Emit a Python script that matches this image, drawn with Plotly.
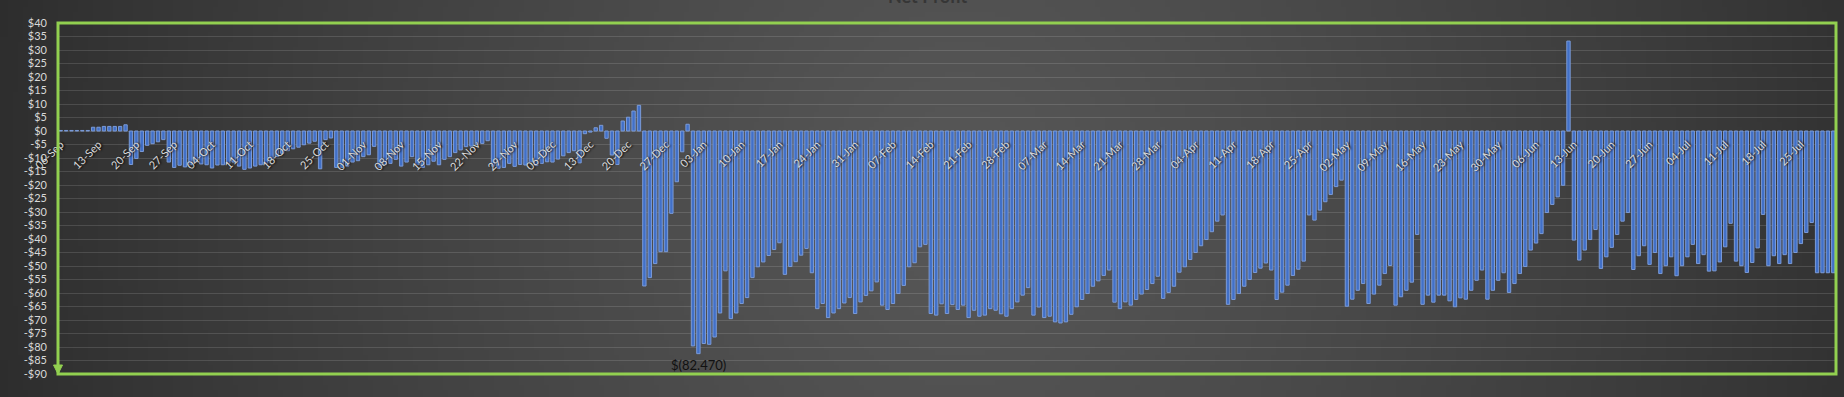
import zlib, struct, base64
import numpy as np
import pandas as pd
import plotly.graph_objects as go

# ---------------- data (daily net profit, $) ----------------
START_DATE = "2021-09-06"

sep_vals = [0.2, 0.2, 0.2, 0.2, 0.2, 0.2, 1.4, 1.4, 1.7, 1.7, 1.7, 1.7, 2.3,
            -12.4, -10.2, -7.6, -5.3, -4.7, -4.0, -3.2, -11.5, -13.5, -12.7, -13.3, -12.5]
oct_vals = [-11.5, -12.2, -12.5, -13.7, -12.6, -12.5, -12.0, -11.5, -13.0, -14.2, -13.7,
            -13.0, -12.5, -12.0, -10.5, -9.5, -8.3, -7.3, -6.6, -6.0, -5.1, -4.5, -3.8,
            -14.0, -3.2, -2.6, -13.5, -13.5, -13.0, -11.5, -11.0]
nov_vals = [-9.5, -8.8, -5.7, -13.5, -12.5, -12.0, -10.5, -13.0, -11.5, -9.5, -12.5,
            -13.5, -12.5, -11.2, -12.5, -10.5, -9.5, -8.0, -7.0, -5.8, -5.6, -5.0, -4.6,
            -3.6, -13.0, -13.8, -13.5, -12.0, -13.1, -12.4]
dec_vals = [-12.6, -11.5, -12.8, -12.0, -11.4, -11.5, -10.4, -9.2, -8.0, -7.3, -11.8,
            -1.0, -0.4, 1.2, 2.1, -2.7, -8.9, -12.4, 3.7, 5.1, 7.4, 9.5, -57.4, -54.3,
            -49.1, -44.7, -44.7, -30.5, -18.8, -7.7, 2.5]
jan_vals = [-79.6, -82.47, -78.7, -79.0, -76.3, -67.4, -51.8, -69.5, -67.4, -63.9, -61.7,
            -54.3, -50.3, -48.5, -46.1, -43.9, -41.4, -53.1, -50.2, -48.4, -46.0, -43.5,
            -52.5, -65.8, -63.9, -69.1, -67.4, -65.8, -63.7, -61.7, -67.6]
feb_vals = [-63.3, -60.9, -59.2, -55.9, -64.5, -66.1, -63.9, -60.2, -57.2, -50.3, -48.8,
            -42.9, -42.0, -67.6, -68.2, -64.0, -67.6, -64.3, -66.1, -64.5, -69.1, -66.4,
            -68.6, -68.2, -65.8, -66.4, -67.7, -68.6]
mar_vals = [-65.8, -63.3, -60.8, -58.0, -68.2, -65.2, -69.1, -68.6, -70.7, -71.1, -70.7,
            -67.9, -65.1, -62.4, -60.2, -57.5, -55.5, -53.5, -51.5, -63.4, -65.8, -63.3,
            -64.5, -62.4, -60.4, -58.7, -56.5, -53.8, -62.0, -59.8, -57.5]
apr_vals = [-52.3, -50.3, -47.6, -45.0, -42.5, -40.2, -37.3, -33.4, -31.1, -64.2, -62.4,
            -60.2, -57.5, -55.0, -52.4, -50.8, -48.9, -51.5, -62.4, -59.7, -57.1, -53.5,
            -51.2, -48.2, -31.1, -33.0, -29.3, -26.2, -23.5, -20.6]
may_vals = [-18.2, -64.9, -62.3, -59.0, -56.5, -63.9, -60.4, -57.1, -52.8, -49.8, -64.5,
            -61.4, -59.0, -56.0, -38.3, -64.2, -60.8, -63.4, -60.8, -60.8, -62.9, -65.1,
            -61.8, -62.3, -59.0, -55.3, -51.5, -62.3, -59.0, -55.3, -52.5]
jun_vals = [-59.8, -56.5, -52.8, -50.2, -44.1, -41.5, -38.0, -30.2, -27.2, -24.4, -20.1,
            33.3, -40.4, -47.8, -44.1, -40.2, -36.5, -50.9, -46.6, -43.1, -38.3, -33.4,
            -30.2, -51.3, -46.2, -42.5, -49.4, -45.0, -52.8, -49.9]
jul_vals = [-46.6, -53.6, -49.9, -46.6, -42.0, -49.1, -45.8, -51.9, -51.8, -48.5, -42.9,
            -34.2, -48.2, -49.9, -52.4, -48.7, -43.3, -30.9, -49.9, -46.2, -49.1, -45.8,
            -49.1, -45.0, -41.7, -37.6, -33.9, -52.5, -52.5, -52.5, -52.5]

y_tick_vals = [40, 35, 30, 25, 20, 15, 10, 5, 0, -5, -10, -15, -20, -25, -30, -35, -40,
               -45, -50, -55, -60, -65, -70, -75, -80, -85, -90]
y_tick_text = ["$40", "$35", "$30", "$25", "$20", "$15", "$10", "$5", "$0", "-$5", "-$10",
               "-$15", "-$20", "-$25", "-$30", "-$35", "-$40", "-$45", "-$50", "-$55",
               "-$60", "-$65", "-$70", "-$75", "-$80", "-$85", "-$90"]
TITLE = "Net Profit"

values = (sep_vals + oct_vals + nov_vals + dec_vals + jan_vals + feb_vals + mar_vals +
          apr_vals + may_vals + jun_vals + jul_vals)
dates = pd.date_range(START_DATE, periods=len(values), freq="D")

# ---------------- geometry ----------------
W, H = 1844, 397
ML, MR, MT, MB = 58, 8, 23, 23
PW, PH = W - ML - MR, H - MT - MB
Y_MIN, Y_MAX = -90, 40
GREEN = "#92d050"

# ---------------- background gradient (radial, dark) ----------------
def png_gray(w, h, arr):
    raw = b"".join(b"\x00" + bytes(row.tolist()) for row in arr)
    def chunk(t, d):
        c = struct.pack(">I", len(d)) + t + d
        return c + struct.pack(">I", zlib.crc32(t + d) & 0xffffffff)
    ihdr = struct.pack(">IIBBBBB", w, h, 8, 0, 0, 0, 0)
    return (b"\x89PNG\r\n\x1a\n" + chunk(b"IHDR", ihdr) +
            chunk(b"IDAT", zlib.compress(raw, 9)) + chunk(b"IEND", b""))

gw, gh = 368, 80
gx = (np.arange(gw) + 0.5) / gw
gy = (np.arange(gh) + 0.5) / gh
XX, YY = np.meshgrid(gx, gy)
d = np.sqrt(((XX - 0.52) / 0.55) ** 2 + ((YY - 0.5) / 3.0) ** 2)
val = 42 + 46 * np.clip(1 - d, 0, 1) ** 0.8
img = np.clip(val, 0, 255).astype(np.uint8)
bg_uri = "data:image/png;base64," + base64.b64encode(png_gray(gw, gh, img)).decode()

# ---------------- figure ----------------
fig = go.Figure()
fig.add_trace(go.Bar(
    x=dates, y=values,
    marker=dict(color="#4170c8", line=dict(color="#7b9bd8", width=1)),
    hoverinfo="x+y",
))

min_i = int(np.argmin(values))
fig.add_annotation(
    x=dates[min_i], y=values[min_i], xref="x", yref="y",
    text=f"$({abs(values[min_i]):.3f})", showarrow=False,
    yanchor="top", yshift=-1,
    font=dict(family="Lato", size=13, color="#111111"),
)

fig.add_annotation(
    x=0.5, y=1, xref="paper", yref="paper", text=f"<b>{TITLE}</b>",
    showarrow=False, yanchor="bottom", yshift=14, xshift=-19,
    font=dict(family="Lato", size=18, color="#363636"),
)

zero_frac = (0 - Y_MIN) / (Y_MAX - Y_MIN)
half_day = pd.Timedelta(hours=12)

fig.update_layout(
    width=W, height=H,
    margin=dict(l=ML, r=MR, t=MT, b=MB, pad=0),
    paper_bgcolor="#3a3a3a",
    plot_bgcolor="rgba(0,0,0,0)",
    showlegend=False,
    bargap=0.38,
    images=[dict(
        source=bg_uri, xref="paper", yref="paper",
        x=-ML / PW, y=1 + MT / PH, sizex=W / PW, sizey=H / PH,
        xanchor="left", yanchor="top", sizing="stretch", layer="below",
    )],
    xaxis=dict(
        type="date",
        range=[dates[0] - half_day, dates[-1] + half_day],
        tick0=START_DATE, dtick=7 * 86400000, tickformat="%d-%b",
        tickangle=-45,
        tickfont=dict(family="Lato", size=11, color="#d9d9d9",
                      shadow="1px 1px 2px #000000"),
        showgrid=False, showline=False, zeroline=False, ticks="",
        anchor="free", position=zero_frac, automargin=False,
        ticklabelstandoff=4,
    ),
    yaxis=dict(
        range=[Y_MIN, Y_MAX], tickmode="array",
        tickvals=y_tick_vals, ticktext=y_tick_text,
        tickfont=dict(family="Lato", size=11, color="#d9d9d9"),
        showgrid=True, gridcolor="rgba(255,255,255,0.13)", gridwidth=1,
        zeroline=False, showline=False, ticks="",
        ticklabelstandoff=10, automargin=False,
    ),
    shapes=[
        dict(type="rect", xref="paper", yref="paper", x0=0, x1=1, y0=0, y1=1,
             line=dict(color=GREEN, width=3), layer="above"),
        dict(type="path", xref="paper", yref="paper",
             xsizemode="pixel", ysizemode="pixel", xanchor=0, yanchor=0,
             path="M -4.5,9 L 4.5,9 L 0,0 Z",
             fillcolor=GREEN, line=dict(color=GREEN, width=1), layer="above"),
    ],
)

fig.write_html("out.html")
